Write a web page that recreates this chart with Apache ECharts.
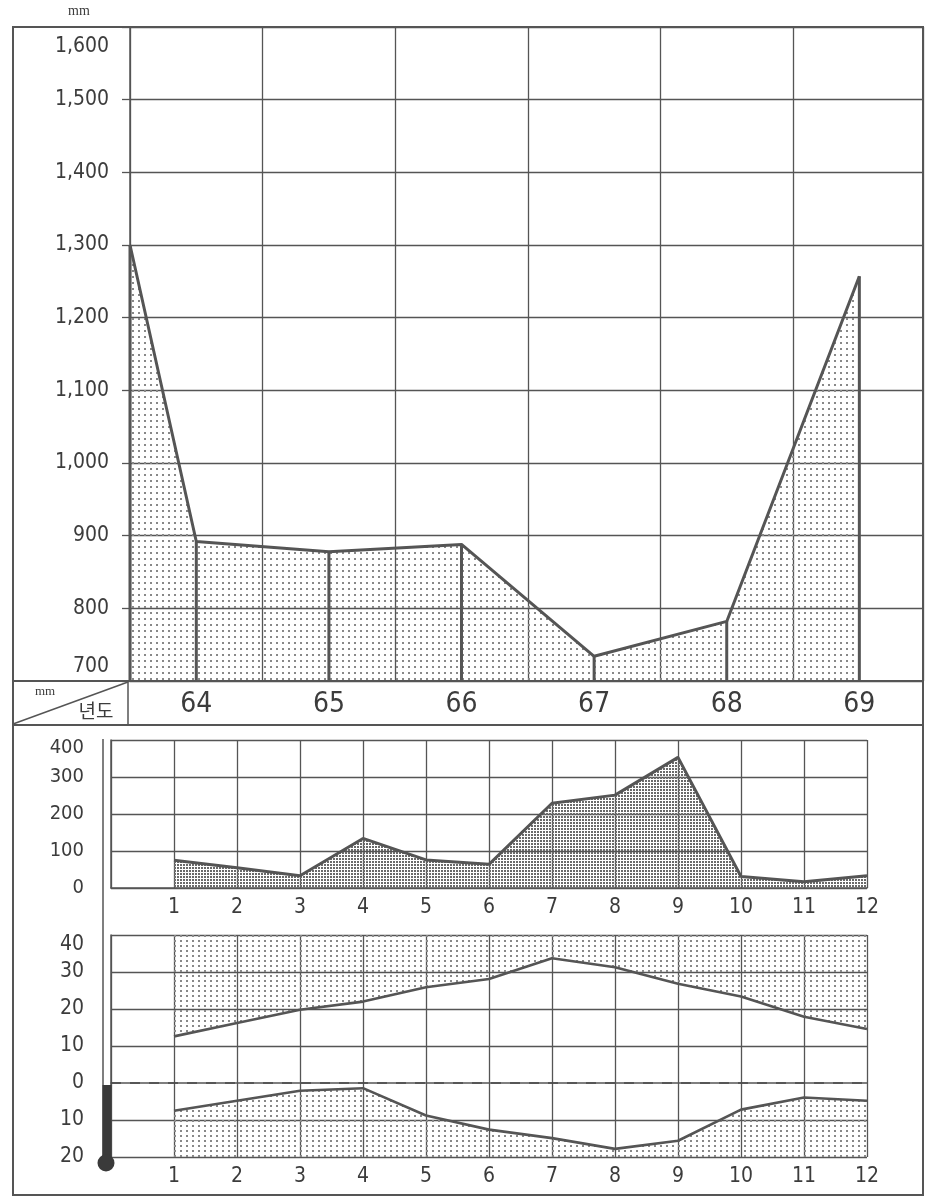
<!DOCTYPE html>
<html>
<head>
<meta charset="utf-8">
<script src="https://cdn.jsdelivr.net/npm/echarts@6/dist/echarts.min.js"></script>
<style>
html,body{margin:0;padding:0;background:#fff;}
#chart{width:928px;height:1199px;}
</style>
</head>
<body>
<div id="chart"></div>
<script>
// ---- data ----
const years = [63.5, 64, 65, 66, 67, 68, 69];
const annualRain = [1300, 892, 878, 888, 734, 782, 1257];
const months = [1, 2, 3, 4, 5, 6, 7, 8, 9, 10, 11, 12];
const monthlyRain = [75, 55, 33, 134, 76, 64, 229, 251, 353, 31, 17, 33];
const maxTemp = [12.6, 16.2, 19.8, 22.0, 25.9, 28.1, 33.7, 31.3, 26.8, 23.4, 17.9, 14.6];
const minTemp = [-7.5, -4.8, -2.1, -1.4, -8.8, -12.6, -14.9, -17.8, -15.6, -7.2, -3.9, -4.8];

const FONT = "'Liberation Sans Narrow', 'DejaVu Sans Condensed', 'Arial Narrow', sans-serif";
const INK = '#555';
const TXT = '#3c3c3c';

function dotPattern(w, h, d, color) {
  const c = document.createElement('canvas');
  c.width = w; c.height = h;
  const g = c.getContext('2d');
  g.fillStyle = color;
  g.fillRect(0, 0, d, d);
  return { image: c, repeat: 'repeat' };
}
const topPat = dotPattern(6, 6, 2, '#888');
const midPat = dotPattern(3, 3, 2, '#6a6a6a');
const botPat = dotPattern(6, 5, 2, '#888');

const pair = (xs, ys) => xs.map((x, i) => [x, ys[i]]);

const chart = echarts.init(document.getElementById('chart'), null, { renderer: 'canvas' });

const gridLine = { show: true, lineStyle: { color: INK, width: 1.3 } };

const option = {
  backgroundColor: '#fff',
  animation: false,
  grid: [
    { left: 130, top: 27, width: 793, height: 654 },
    { left: 111, top: 740, width: 756, height: 148 },
    { left: 111, top: 935, width: 756, height: 222 }
  ],
  xAxis: [
    {
      gridIndex: 0, type: 'value', min: 63.5, max: 69.48, interval: 0.5,
      axisLine: { show: true, lineStyle: { color: INK, width: 1.5 } },
      axisTick: { show: false },
      axisLabel: {
        margin: 10, fontSize: 28, fontFamily: FONT, color: TXT,
        formatter: v => Number.isInteger(v) ? String(v) : ''
      },
      splitLine: { show: true, lineStyle: { color: [INK, 'rgba(0,0,0,0)'], width: 1.3 } }
    },
    {
      gridIndex: 1, type: 'value', min: 0, max: 12, interval: 1,
      axisLine: { show: true, lineStyle: { color: INK, width: 1.5 } },
      axisTick: { show: false },
      axisLabel: {
        margin: 9, fontSize: 21, fontFamily: FONT, color: TXT,
        formatter: v => v === 0 ? '' : String(v)
      },
      splitLine: gridLine
    },
    {
      gridIndex: 2, type: 'value', min: 0, max: 12, interval: 1,
      axisLine: { show: true, lineStyle: { color: INK, width: 1.5 } },
      axisTick: { show: false },
      axisLabel: {
        margin: 9, fontSize: 21, fontFamily: FONT, color: TXT,
        formatter: v => v === 0 ? '' : String(v)
      },
      splitLine: gridLine
    }
  ],
  yAxis: [
    {
      gridIndex: 0, type: 'value', min: 700, max: 1600, interval: 100,
      axisLine: { show: true, lineStyle: { color: INK, width: 1.5 } },
      axisTick: { show: true, length: 8, lineStyle: { color: INK, width: 1.3 } },
      axisLabel: {
        margin: 21, fontSize: 21, fontFamily: FONT, color: TXT,
        formatter: v => {
          const s = v.toLocaleString('en-US');
          if (v === 1600) return '{dn|' + s + '}';
          if (v === 700) return '{up|' + s + '}';
          return s;
        },
        rich: {
          dn: { fontSize: 21, fontFamily: FONT, color: TXT, padding: [40, 0, 0, 0] },
          up: { fontSize: 21, fontFamily: FONT, color: TXT, padding: [0, 0, 28, 0] }
        }
      },
      splitLine: gridLine
    },
    {
      gridIndex: 1, type: 'value', min: 0, max: 400, interval: 100,
      axisLine: { show: true, lineStyle: { color: INK, width: 1.5 } },
      axisTick: { show: false },
      axisLabel: {
        margin: 27, fontSize: 20, fontFamily: FONT, color: TXT,
        formatter: v => v === 400 ? '{dn|400}' : String(v),
        rich: { dn: { fontSize: 20, fontFamily: FONT, color: TXT, padding: [16, 0, 0, 0] } }
      },
      splitLine: gridLine
    },
    {
      gridIndex: 2, type: 'value', min: -20, max: 40, interval: 10,
      axisLine: { show: true, lineStyle: { color: INK, width: 1.5 } },
      axisTick: { show: false },
      axisLabel: {
        margin: 27, fontSize: 21, fontFamily: FONT, color: TXT,
        formatter: v => v === 40 ? '{dn|40}' : String(Math.abs(v)),
        rich: { dn: { fontSize: 21, fontFamily: FONT, color: TXT, padding: [20, 0, 0, 0] } }
      },
      splitLine: { show: true, lineStyle: { color: [INK, INK, 'rgba(0,0,0,0)', INK, INK, INK, INK], width: 1.3 } }
    }
  ],
  series: [
    {
      name: 'annual', type: 'line', xAxisIndex: 0, yAxisIndex: 0,
      data: pair(years, annualRain), symbol: 'none',
      lineStyle: { color: INK, width: 3 },
      areaStyle: { origin: 'start', color: topPat, opacity: 1 },
      z: 3
    },
    {
      name: 'annualDrop', type: 'bar', xAxisIndex: 0, yAxisIndex: 0,
      data: pair(years, annualRain), barWidth: 3,
      itemStyle: { color: INK }, z: 4
    },
    {
      name: 'monthlyRain', type: 'line', xAxisIndex: 1, yAxisIndex: 1,
      data: pair(months, monthlyRain), symbol: 'none',
      lineStyle: { color: INK, width: 3 },
      areaStyle: { origin: 'start', color: midPat, opacity: 1 },
      z: 3
    },
    {
      name: 'maxTemp', type: 'line', xAxisIndex: 2, yAxisIndex: 2,
      data: pair(months, maxTemp), symbol: 'none',
      lineStyle: { color: INK, width: 2.6 },
      areaStyle: { origin: 'end', color: botPat, opacity: 1 },
      z: 3
    },
    {
      name: 'minTemp', type: 'line', xAxisIndex: 2, yAxisIndex: 2,
      data: pair(months, minTemp), symbol: 'none',
      lineStyle: { color: INK, width: 2.6 },
      areaStyle: { origin: 'start', color: botPat, opacity: 1 },
      markLine: {
        silent: true, symbol: 'none', label: { show: false },
        lineStyle: { type: [10, 9], color: '#4a4a4a', width: 1.7 },
        data: [{ yAxis: 0 }]
      },
      z: 3
    }
  ],
  graphic: [
    { type: 'rect', shape: { x: 13, y: 27, width: 910, height: 1168 }, style: { fill: null, stroke: INK, lineWidth: 2 }, z: 10 },
    { type: 'line', shape: { x1: 13, y1: 681, x2: 923, y2: 681 }, style: { stroke: INK, lineWidth: 1.8 }, z: 10 },
    { type: 'line', shape: { x1: 13, y1: 725, x2: 923, y2: 725 }, style: { stroke: INK, lineWidth: 1.8 }, z: 10 },
    { type: 'line', shape: { x1: 128, y1: 681, x2: 128, y2: 725 }, style: { stroke: INK, lineWidth: 1.5 }, z: 10 },
    { type: 'line', shape: { x1: 13, y1: 724, x2: 128, y2: 682 }, style: { stroke: INK, lineWidth: 1.5 }, z: 10 },
    { type: 'line', shape: { x1: 103, y1: 739, x2: 103, y2: 1157 }, style: { stroke: INK, lineWidth: 1.5 }, z: 10 },
    { type: 'rect', shape: { x: 102.5, y: 1085, width: 9, height: 75 }, style: { fill: '#3a3a3a' }, z: 11 },
    { type: 'circle', shape: { cx: 106, cy: 1163, r: 8.5 }, style: { fill: '#3a3a3a' }, z: 11 },
    { type: 'text', x: 79, y: 11, style: { text: 'mm', fontSize: 14, fontFamily: "'Liberation Serif', 'DejaVu Serif', serif", fill: TXT, align: 'center', verticalAlign: 'middle' }, z: 10 },
    { type: 'text', x: 45, y: 692, style: { text: 'mm', fontSize: 13, fontFamily: "'Liberation Serif', 'DejaVu Serif', serif", fill: TXT, align: 'center', verticalAlign: 'middle' }, z: 10 },
    { type: 'text', x: 96, y: 711, style: { text: '년도', fontSize: 19, fontFamily: "'Noto Sans CJK KR', sans-serif", fill: TXT, align: 'center', verticalAlign: 'middle' }, z: 10 }
  ]
};
chart.setOption(option);
</script>
</body>
</html>
